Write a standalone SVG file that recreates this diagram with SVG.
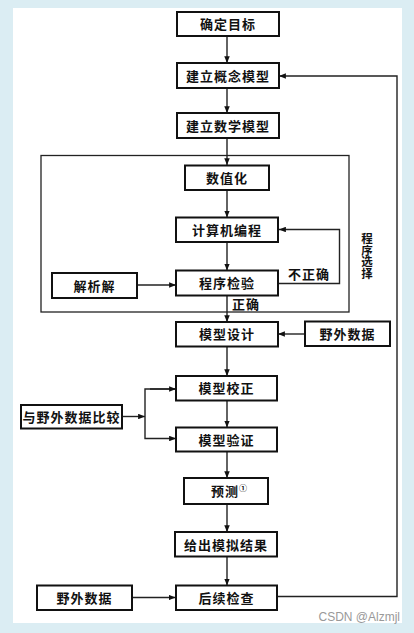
<svg xmlns="http://www.w3.org/2000/svg" width="414" height="633" viewBox="0 0 414 633">
<defs>
<style>
.box{fill:#fff;stroke:#111;stroke-width:2}
.frame{fill:none;stroke:#222;stroke-width:1.3}
.t{font-family:"Noto Sans CJK SC","Noto Sans CJK JP",sans-serif;font-size:13px;font-weight:bold;fill:#111;text-anchor:middle;letter-spacing:1px}
.lbl{font-family:"Noto Sans CJK SC",sans-serif;font-size:13px;font-weight:bold;fill:#111}
.v{font-family:"Noto Sans CJK SC",sans-serif;font-size:11.5px;font-weight:bold;fill:#111;writing-mode:vertical-rl}
.c{fill:none;stroke:#222;stroke-width:1.4}
.wm{font-family:"Liberation Sans",Arial,sans-serif;font-size:12px;fill:#999}
</style>
<marker id="ah" viewBox="0 0 10 8" refX="10" refY="4" markerWidth="7" markerHeight="5.5" orient="auto" markerUnits="userSpaceOnUse">
<path d="M0,0 L10,4 L0,8 Z" fill="#111"/>
</marker>
</defs>
<rect x="0" y="0" width="414" height="633" fill="#dbedf3"/>
<rect x="13" y="8" width="389" height="615" fill="#fff"/>

<g id="frame"><rect class="frame" x="41" y="155.5" width="308" height="156.5"/></g>

<g id="connectors">
<line class="c" x1="227" y1="36" x2="227" y2="63" marker-end="url(#ah)"/>
<line class="c" x1="227" y1="88" x2="227" y2="113" marker-end="url(#ah)"/>
<line class="c" x1="227" y1="138" x2="227" y2="165" marker-end="url(#ah)"/>
<line class="c" x1="227" y1="190" x2="227" y2="217.5" marker-end="url(#ah)"/>
<line class="c" x1="227" y1="242" x2="227" y2="270.5" marker-end="url(#ah)"/>
<line class="c" x1="137" y1="285" x2="176" y2="285" marker-end="url(#ah)"/>
<polyline class="c" points="278,283.5 339.5,283.5 339.5,229.5 279,229.5" marker-end="url(#ah)"/>
<line class="c" x1="227" y1="295.5" x2="227" y2="322" marker-end="url(#ah)"/>
<line class="c" x1="305" y1="334" x2="278" y2="334" marker-end="url(#ah)"/>
<line class="c" x1="227" y1="346.5" x2="227" y2="376" marker-end="url(#ah)"/>
<line class="c" x1="122" y1="416.5" x2="145" y2="416.5" marker-end="url(#ah)"/>
<polyline class="c" points="176,389 145,389 145,438.5 176,438.5" marker-end="url(#ah)"/>
<line class="c" x1="150" y1="389" x2="176" y2="389" marker-end="url(#ah)"/>
<line class="c" x1="227" y1="400.5" x2="227" y2="427.5" marker-end="url(#ah)"/>
<line class="c" x1="227" y1="451.5" x2="227" y2="478" marker-end="url(#ah)"/>
<line class="c" x1="227" y1="504" x2="227" y2="532" marker-end="url(#ah)"/>
<line class="c" x1="227" y1="556.5" x2="227" y2="585.5" marker-end="url(#ah)"/>
<line class="c" x1="132" y1="597.5" x2="175.5" y2="597.5" marker-end="url(#ah)"/>
<polyline class="c" points="277.5,596.5 397,596.5 397,76 279,76" marker-end="url(#ah)"/>
</g>

<g id="n1"><rect class="box" x="177" y="12" width="102" height="24"/><text class="t" x="228" y="29">确定目标</text></g>
<g id="n2"><rect class="box" x="177" y="63" width="102" height="25"/><text class="t" x="228" y="80.5">建立概念模型</text></g>
<g id="n3"><rect class="box" x="177" y="113" width="102" height="25"/><text class="t" x="228" y="130.5">建立数学模型</text></g>
<g id="n4"><rect class="box" x="185" y="165.5" width="84" height="24.5"/><text class="t" x="227" y="182.5">数值化</text></g>
<g id="n5"><rect class="box" x="176" y="217.5" width="102" height="24.5"/><text class="t" x="227" y="234.5">计算机编程</text></g>
<g id="n6"><rect class="box" x="176" y="270.5" width="102" height="25"/><text class="t" x="227" y="288">程序检验</text></g>
<g id="n7"><rect class="box" x="52" y="273" width="85" height="25"/><text class="t" x="94.5" y="290.5">解析解</text></g>
<g id="labels1">
<text class="lbl" x="288" y="279" letter-spacing="1">不正确</text>
<text class="lbl" x="232" y="309" letter-spacing="1">正确</text>
<text class="v" x="367" y="233">程序选择</text>
</g>
<g id="n8"><rect class="box" x="176" y="322" width="102" height="24.5"/><text class="t" x="227" y="339">模型设计</text></g>
<g id="n9"><rect class="box" x="305" y="321.5" width="85" height="24.5"/><text class="t" x="347.5" y="338.5">野外数据</text></g>
<g id="n10"><rect class="box" x="176" y="376" width="101" height="24.5"/><text class="t" x="226.5" y="393">模型校正</text></g>
<g id="n11"><rect class="box" x="21" y="405" width="101" height="23.5"/><text class="t" x="71.5" y="421.5" letter-spacing="0.5">与野外数据比较</text></g>
<g id="n12"><rect class="box" x="176" y="427.5" width="101" height="24"/><text class="t" x="226.5" y="444.5">模型验证</text></g>
<g id="n13"><rect class="box" x="184" y="478" width="84" height="26"/><text class="t" x="225" y="496">预测</text><text x="239" y="491" font-family="Noto Sans CJK SC,sans-serif" font-size="8" font-weight="bold" fill="#111">①</text></g>
<g id="n14"><rect class="box" x="175" y="532" width="102" height="24.5"/><text class="t" x="226" y="549.5">给出模拟结果</text></g>
<g id="n15"><rect class="box" x="176" y="585.5" width="101" height="24.5"/><text class="t" x="226.5" y="603">后续检查</text></g>
<g id="n16"><rect class="box" x="37" y="585.5" width="95" height="24.5"/><text class="t" x="84.5" y="603">野外数据</text></g>
<text class="wm" x="400" y="621" text-anchor="end">CSDN @Alzmjl</text>
</svg>
